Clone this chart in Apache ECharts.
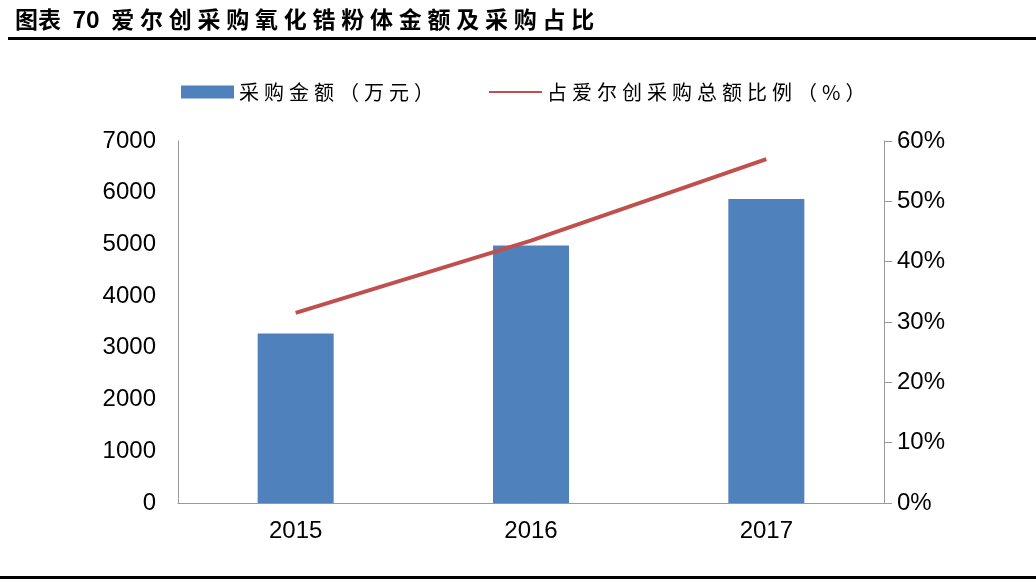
<!DOCTYPE html>
<html>
<head>
<meta charset="utf-8">
<script src="https://cdn.jsdelivr.net/npm/echarts@6/dist/echarts.min.js"></script>
<style>
  html, body { margin: 0; padding: 0; background: #fff; }
  #chart { width: 1036px; height: 582px; }
</style>
</head>
<body>
<div id="chart"></div>
<script>
var years = ['2015', '2016', '2017'];
var amount = [3280, 4980, 5880];          // 采购金额（万元）
var share = [31.5, 43.5, 57.0];           // 占爱尔创采购总额比例（%）

var titleHead = '图表';
var titleNo = '70';
var titleBody = '爱尔创采购氧化锆粉体金额及采购占比';
var barName = '采购金额（万元）';
var lineName = '占爱尔创采购总额比例（%）';

var cjk = '"Noto Sans CJK SC", sans-serif';
var num = '"Liberation Sans", Arial, sans-serif';

// the source uses wide letter spacing on the Chinese text
function spaced(s, sp) {
    return s.split('').join(sp);
}

var myChart;
document.addEventListener('DOMContentLoaded', function () {
    myChart = echarts.init(document.getElementById('chart'));
    var option = {
        animation: false,
        title: {
            text: titleHead + '\u2002' + titleNo + '\u2002' + spaced(titleBody, '\u2005'),
            left: 10,
            top: 3,
            textStyle: { fontFamily: cjk, fontSize: 23, fontWeight: 'bold', color: '#000' }
        },
        graphic: [
            { type: 'rect', shape: { x: 8, y: 37, width: 1028, height: 3 }, style: { fill: '#000' } },
            { type: 'rect', shape: { x: 0, y: 576, width: 1036, height: 3 }, style: { fill: '#000' } }
        ],
        legend: {
            left: 176,
            top: 77,
            itemGap: 54,
            itemWidth: 53,
            itemHeight: 13,
            textStyle: { fontFamily: cjk, fontSize: 20, color: '#000' },
            formatter: function (name) { return spaced(name, '\u2005'); },
            data: [
                { name: barName, icon: 'rect' },
                { name: lineName, itemStyle: { opacity: 0 } }
            ]
        },
        grid: { left: 178, right: 152, top: 141, bottom: 79 },
        xAxis: {
            type: 'category',
            data: years,
            axisLine: { lineStyle: { color: '#999' } },
            axisTick: { show: false },
            axisLabel: { margin: 16, fontFamily: num, fontSize: 24, color: '#000' }
        },
        yAxis: [{
            type: 'value',
            min: 0, max: 7000, interval: 1000,
            axisLine: { show: true, lineStyle: { color: '#999' } },
            axisTick: { show: false },
            splitLine: { show: false },
            axisLabel: {
                margin: 22, fontFamily: num, fontSize: 24, color: '#000',
                formatter: function (v) { return String(v); }
            }
        }, {
            type: 'value',
            min: 0, max: 60, interval: 10,
            position: 'right',
            axisLine: { show: true, lineStyle: { color: '#999' } },
            axisTick: { show: true, length: 8, lineStyle: { color: '#999' } },
            splitLine: { show: false },
            axisLabel: { margin: 13, fontFamily: num, fontSize: 24, color: '#000', formatter: '{value}%' }
        }],
        series: [{
            name: barName,
            type: 'bar',
            barWidth: 76,
            itemStyle: { color: '#4F81BD' },
            data: amount
        }, {
            name: lineName,
            type: 'line',
            yAxisIndex: 1,
            symbol: 'none',
            lineStyle: { color: '#C0504D', width: 4 },
            itemStyle: { color: '#C0504D' },
            data: share
        }]
    };
    myChart.setOption(option);
});
</script>
</body>
</html>
